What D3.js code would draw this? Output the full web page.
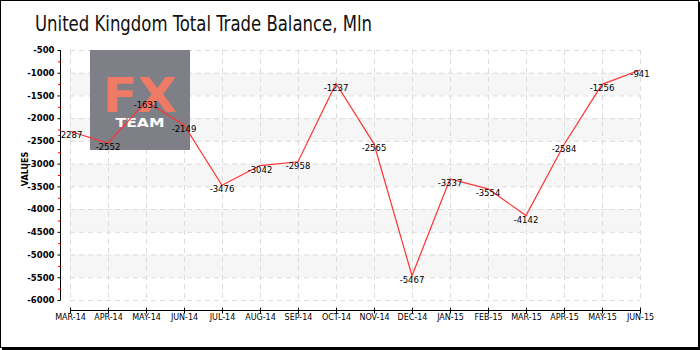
<!DOCTYPE html>
<html><head><meta charset="utf-8">
<script src="https://cdn.jsdelivr.net/npm/d3@7"></script>
<style>body{margin:0;background:#fff}svg{display:block}</style>
</head><body><svg id="c" width="700" height="350"></svg>
<script>
const months = ["MAR-14","APR-14","MAY-14","JUN-14","JUL-14","AUG-14","SEP-14","OCT-14","NOV-14","DEC-14","JAN-15","FEB-15","MAR-15","APR-15","MAY-15","JUN-15"];
const values = [-2287,-2552,-1631,-2149,-3476,-3042,-2958,-1237,-2565,-5467,-3337,-3554,-4142,-2584,-1256,-941];
const yTicks = [-500,-1000,-1500,-2000,-2500,-3000,-3500,-4000,-4500,-5000,-5500,-6000];
const title = "United Kingdom Total Trade Balance, Mln";
const yLabel = "VALUES";

const svg = d3.select("#c");
const font = "'DejaVu Sans', sans-serif";
const x = d3.scalePoint().domain(months).range([70, 640]);
const y = d3.scaleLinear().domain([-6000, -500]).range([300, 50]);

// border
svg.append("rect").attr("x",0.5).attr("y",0.5).attr("width",698).attr("height",347).attr("fill","#fff").attr("stroke","#000");
svg.append("line").attr("x1",699).attr("x2",699).attr("y1",2).attr("y2",350).attr("stroke","#000").attr("stroke-width",2);
svg.append("line").attr("x1",2).attr("x2",700).attr("y1",349).attr("y2",349).attr("stroke","#000").attr("stroke-width",2);

// title
svg.append("text").attr("x",35).attr("y",31).text(title)
  .attr("font-family","'DejaVu Sans Condensed','DejaVu Sans',sans-serif").attr("font-size",21).attr("font-weight",300)
  .attr("fill","#111").attr("textLength",337).attr("lengthAdjust","spacingAndGlyphs");

// bands
for (let v = -1000; v > -6000; v -= 1000) {
  svg.append("rect").attr("x",70).attr("width",570).attr("y",y(v)).attr("height",y(v-500)-y(v)).attr("fill","#f6f6f6");
}
// grid
svg.append("g").selectAll("line").data(yTicks).join("line")
  .attr("x1",70).attr("x2",640).attr("y1",d=>y(d)+0.5).attr("y2",d=>y(d)+0.5)
  .attr("stroke","#dcdcdc").attr("stroke-dasharray","5,4");
svg.append("g").selectAll("line").data(months).join("line")
  .attr("x1",d=>x(d)+0.5).attr("x2",d=>x(d)+0.5).attr("y1",50).attr("y2",300)
  .attr("stroke","#dcdcdc").attr("stroke-dasharray","5,4");

// logo
const logo = svg.append("g");
logo.append("rect").attr("x",90).attr("y",50).attr("width",100).attr("height",100).attr("fill","#7f7f87");
logo.append("text").attr("x",140).attr("y",112).attr("text-anchor","middle").text("FX")
  .attr("font-family","'DejaVu Sans',sans-serif").attr("font-weight","bold").attr("font-size",48).attr("fill","#ef7a66")
  .attr("textLength",74).attr("lengthAdjust","spacingAndGlyphs");
logo.append("text").attr("x",140).attr("y",127).attr("text-anchor","middle").text("TEAM")
  .attr("font-family","'DejaVu Sans',sans-serif").attr("font-weight","bold").attr("font-size",12).attr("fill","#fff")
  .attr("textLength",49).attr("lengthAdjust","spacingAndGlyphs");

// y axis
const yAxis = d3.axisLeft(y).tickValues(yTicks).tickSize(3).tickPadding(3).tickFormat(d3.format("d"));
const gy = svg.append("g").attr("transform","translate(60.5,0)").call(yAxis);
gy.select(".domain").attr("stroke","#000").attr("d","M0,50V300");
gy.selectAll("text").attr("font-family",font).attr("font-size",8.5).attr("font-weight","bold").attr("fill","#000")
  .text(d=>d3.format("d")(d).replace("−","-"));
const minor = d3.range(-750,-6000,-500);
svg.append("g").selectAll("line").data(minor).join("line")
  .attr("x1",58).attr("x2",61).attr("y1",d=>y(d)+0.5).attr("y2",d=>y(d)+0.5).attr("stroke","#e00");
svg.append("text").attr("transform","translate(28,169) rotate(-90)").attr("text-anchor","middle").text(yLabel)
  .attr("font-family",font).attr("font-size",8).attr("font-weight","bold").attr("fill","#000");

// x axis
const xAxis = d3.axisBottom(x).tickSize(6).tickPadding(2);
const gx = svg.append("g").attr("transform","translate(0,310.5)").call(xAxis);
gx.select(".domain").attr("stroke","#000").attr("d","M70,0H640");
gx.selectAll(".tick line").attr("y1",-3).attr("y2",3);
gx.selectAll("text").attr("font-family",font).attr("font-size",8).attr("fill","#000").attr("y",4);

// line
const line = d3.line().x((d,i)=>x(months[i])).y(d=>y(d));
svg.append("path").datum(values).attr("d",line).attr("fill","none").attr("stroke","#ff3333").attr("stroke-width",1.2);

// labels
svg.append("g").selectAll("text").data(values).join("text")
  .attr("x",(d,i)=>x(months[i])).attr("y",d=>y(d)+7).attr("text-anchor","middle")
  .text(d=>String(d)).attr("font-family",font).attr("font-size",8.5).attr("fill","#000");
</script></body></html>
